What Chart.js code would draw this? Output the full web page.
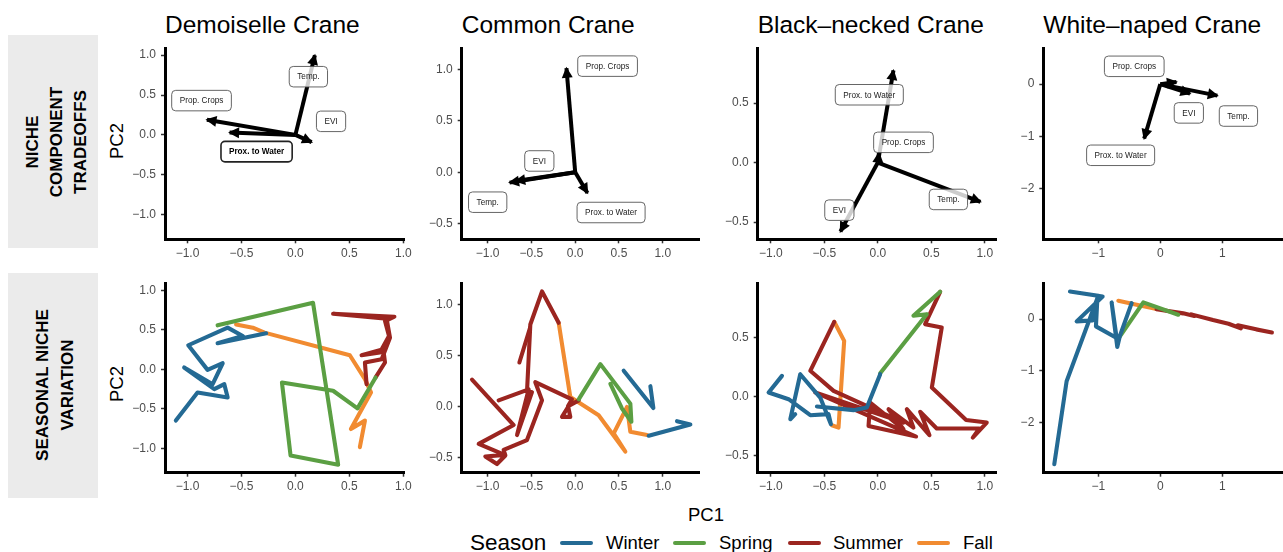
<!DOCTYPE html>
<html><head><meta charset="utf-8">
<script src="https://cdn.jsdelivr.net/npm/chart.js@4.4.1/dist/chart.umd.min.js"></script>
<style>
html,body{margin:0;padding:0;background:#fff;}
body{width:1283px;height:552px;position:relative;overflow:hidden;font-family:"Liberation Sans",Arial,Helvetica,sans-serif;color:#000;}
.title{position:absolute;font-size:24.5px;line-height:26px;white-space:nowrap;}
.strip{position:absolute;left:8px;width:90px;background:#ebebeb;}
.rot{position:absolute;transform:translate(-50%,-50%) rotate(-90deg);white-space:nowrap;text-align:center;}
canvas{position:absolute;}
.leg{position:absolute;white-space:nowrap;}
.sw{position:absolute;height:4px;border-radius:2px;}
</style></head><body>
<div id="root"></div>
<script>
// ---------------- DATA ----------------
const species = ['Demoiselle Crane', 'Common Crane', 'Black\u2013necked Crane', 'White\u2013naped Crane'];
const seasons = ['Winter', 'Spring', 'Summer', 'Fall'];
const rowLabels = [['NICHE', 'COMPONENT', 'TRADEOFFS'], ['SEASONAL NICHE', 'VARIATION']];
const xTicks = [[-1, -0.5, 0, 0.5, 1], [-1, -0.5, 0, 0.5, 1], [-1, -0.5, 0, 0.5, 1], [-1, 0, 1]];
const yTicks = [[-1, -0.5, 0, 0.5, 1], [-0.5, 0, 0.5, 1], [-0.5, 0, 0.5], [-2, -1, 0]];
const xLimits = [[-1.2085, 1.006], [-1.297, 1.418], [-1.124, 1.112], [-1.887, 1.974]];
const yLimits = [[-1.31, 1.09], [-0.65, 1.206], [-0.645, 0.963], [-2.965, 0.69]];
const tickDecimals = [1, 1, 1, 0];

// PCA loadings (arrow tips) and label positions, order = loadingVars
const loadingVars = ['Temp.', 'EVI', 'Prop. Crops', 'Prox. to Water'];
const demoiselleArrows = [[0.18, 1.0], [0.15, -0.09], [-0.82, 0.19], [-0.61, 0.03]];
const demoiselleLabels = [[0.12, 0.73], [0.33, 0.17], [-0.87, 0.43], [-0.36, -0.21]];
const commonArrows = [[-0.75, -0.10], [-0.68, -0.085], [-0.10, 1.01], [0.14, -0.20]];
const commonLabels = [[-1.0, -0.29], [-0.41, 0.11], [0.37, 1.03], [0.41, -0.39]];
const blackneckedArrows = [[0.96, -0.33], [-0.35, -0.58], [0.01, 0.08], [0.146, 0.775]];
const blackneckedLabels = [[0.66, -0.31], [-0.36, -0.40], [0.24, 0.17], [-0.08, 0.57]];
const whitenapedArrows = [[0.92, -0.22], [0.48, -0.18], [0.26, 0.04], [-0.26, -1.04]];
const whitenapedLabels = [[1.26, -0.61], [0.46, -0.55], [-0.42, 0.34], [-0.64, -1.36]];

// Seasonal trajectories (PC1, PC2); null = break in path
const demoiselleWinter = [[-0.271,0.456],[-0.721,0.330],[-0.488,0.423],[-0.628,0.528],[-0.993,0.305],[-0.814,-0.007],[-0.674,0.077],[-0.767,-0.188],[-1.031,0.023],[-0.752,-0.251],[-0.659,-0.188],[-0.628,-0.356],[-0.907,-0.293],[-1.108,-0.650]];
const demoiselleSpring = [[-0.721,0.557],[0.163,0.843],[0.396,-1.210],[-0.045,-1.093],[-0.125,-0.167],[0.349,-0.272],[0.575,-0.495],[0.743,-0.103]];
const demoiselleSummer = [[0.743,-0.103],[0.830,0.086],[0.814,0.254],[0.613,0.178],[0.783,0.212],[0.867,0.423],[0.830,0.612],[0.917,0.667],[0.349,0.704],[0.845,0.641],[0.876,0.401],[0.799,0.128],[0.644,0.086],[0.659,-0.188]];
const demoiselleFall = [[0.597,-0.987],[0.644,-0.650],[0.514,-0.756],[0.700,-0.293],[0.644,-0.125],[0.504,0.178],[-0.286,0.465],[-0.395,0.528],[-0.550,0.569]];

const commonWinter = [[0.554,0.350],[0.893,-0.016],[0.859,0.198],null,[0.840,-0.287],[1.316,-0.177],[1.163,-0.145]];
const commonSpring = [[0.040,0.069],[0.288,0.414],[0.630,0.027],[0.642,-0.151],[0.535,-0.022],[0.402,0.221]];
const commonSummer = [[0.040,0.059],[-0.075,0.004],[-0.151,-0.103],[-0.056,-0.103],[-0.082,0.004],[-0.037,0.069],[-0.456,0.237],[-0.379,0.059],[-0.551,-0.330],[-0.818,-0.427],[-0.798,-0.481],[-0.894,-0.565],[-1.027,-0.491],[-0.806,-0.475],[-1.103,-0.368],[-0.703,-0.183],[-1.179,0.262],null,[-0.875,0.059],[-0.532,0.166],[-0.665,-0.281],[-0.494,0.140],[-0.551,0.140],[-0.513,0.802],[-0.379,1.126],[-0.189,0.819],null,[-0.638,0.430],[-0.516,0.770]];
const commonFall = [[-0.189,0.819],[-0.056,0.091],[0.268,-0.087],[0.573,-0.443],[0.440,-0.264],[0.592,-0.006],[0.630,-0.248],[0.821,-0.280]];

const blackneckedWinter = [[-0.897,0.177],[-1.022,0.036],[-0.835,-0.021],[-0.632,-0.157],[-0.461,-0.148],[-0.439,-0.233],[-0.539,-0.007],[-0.726,0.191],[-0.819,-0.191],[-0.773,-0.148],null,[-0.570,-0.083],[-0.227,-0.114],[-0.103,-0.092],[0.022,0.191]];
const blackneckedSpring = [[0.022,0.200],[0.458,0.701],[0.333,0.687],[0.583,0.891]];
const blackneckedSummer = [[0.583,0.891],[0.442,0.616],[0.598,0.588],[0.505,0.078],[0.826,-0.197],[1.019,-0.219],[0.888,-0.347],[0.950,-0.270],[0.551,-0.270],[0.396,-0.128],[0.483,-0.327],[0.271,-0.106],[0.333,-0.262],[0.100,-0.106],[0.240,-0.276],[-0.072,-0.049],[-0.087,-0.248],[0.358,-0.338],[-0.586,0.036],[0.240,-0.219],[-0.414,0.050],[-0.632,0.220],[-0.408,0.636]];
const blackneckedFall = [[-0.408,0.636],[-0.315,0.474],[-0.368,-0.262],[-0.430,-0.242]];

const whitenapedWinter = [[-1.710,-2.801],[-1.511,-1.199],[-1.000,0.449],[-1.457,0.532],[-0.930,0.436],[-1.349,-0.045],[-1.091,-0.026],[-1.016,0.372],[-1.038,-0.141],[-0.704,-0.365],[-0.785,0.321],[-0.694,-0.538],[-0.651,-0.321],[-0.462,0.308]];
const whitenapedSpring = [[-0.651,-0.333],[-0.274,0.321],[0.290,0.083]];
const whitenapedSummer = [[-0.06,0.19],[0.37,0.11],[0.55,0.06],[0.50,0.09],[0.85,-0.02],[1.10,-0.09],[1.30,-0.18],[1.25,-0.12],[1.60,-0.21],[1.80,-0.26],[1.55,-0.20]];
const whitenapedFall = [[-0.677,0.353],[-0.382,0.276],[-0.059,0.192]];

// ---------------- STYLE / LAYOUT ----------------
const seasonColors = ['#246A94', '#5B9F43', '#9B2520', '#F18B31'];
const FONT = '"Liberation Sans", Arial, Helvetica, sans-serif';
const colAxisX = [165, 461.7, 757.7, 1043.3];
const colRightX = [404, 699.3, 996.7, 1282.7];
const rowTopY = [48, 283.3];
const rowBottomY = [239.3, 472.7];

const arrowSets = [demoiselleArrows, commonArrows, blackneckedArrows, whitenapedArrows];
const labelSets = [demoiselleLabels, commonLabels, blackneckedLabels, whitenapedLabels];
const trajSets = [
  [demoiselleWinter, demoiselleSpring, demoiselleSummer, demoiselleFall],
  [commonWinter, commonSpring, commonSummer, commonFall],
  [blackneckedWinter, blackneckedSpring, blackneckedSummer, blackneckedFall],
  [whitenapedWinter, whitenapedSpring, whitenapedSummer, whitenapedFall]
];
const emphasized = {0: 'Prox. to Water'};

const root = document.getElementById('root');
function el(tag, css, html) { const e = document.createElement(tag); e.style.cssText = css; if (html !== undefined) e.innerHTML = html; root.appendChild(e); return e; }

// titles
species.forEach((s, c) => el('div', `left:${colAxisX[c]}px;top:12px;`, s).className = 'title');
// strips
el('div', 'top:35px;height:213.3px;').className = 'strip';
el('div', 'top:272.7px;height:225px;').className = 'strip';
el('div', `left:57px;top:142px;font-weight:bold;font-size:17px;line-height:24px;`, rowLabels[0].join('<br>')).className = 'rot';
el('div', `left:55px;top:385px;font-weight:bold;font-size:17px;line-height:25px;`, rowLabels[1].join('<br>')).className = 'rot';
// axis titles
el('div', `left:117px;top:141px;font-size:18.5px;`, 'PC2').className = 'rot';
el('div', `left:117px;top:384px;font-size:18.5px;`, 'PC2').className = 'rot';
el('div', 'position:absolute;left:706px;top:515px;transform:translate(-50%,-50%);font-size:18.5px;white-space:nowrap;', 'PC1');
// legend
el('div', 'left:470px;top:530px;font-size:22.5px;line-height:26px;', 'Season').className = 'leg';
const swX = [560, 673, 787.5, 917], txX = [606, 719, 833, 963];
seasons.forEach((s, i) => {
  el('div', `left:${swX[i]}px;top:541px;width:33px;background:${seasonColors[i]};`).className = 'sw';
  el('div', `left:${txX[i]}px;top:532px;font-size:18.5px;line-height:22px;`, s).className = 'leg';
});

function fmt(v, d) { return v.toFixed(d).replace('-', '\u2212'); }
function splitRuns(arr) {
  const runs = []; let cur = [];
  arr.forEach(p => { if (p) cur.push({x: p[0], y: p[1]}); else { if (cur.length) runs.push(cur); cur = []; } });
  if (cur.length) runs.push(cur);
  return runs;
}

const biplotPlugin = {
  id: 'biplot',
  afterDatasetsDraw(chart, args, opts) {
    if (!opts || !opts.tips) return;
    const ctx = chart.ctx, xs = chart.scales.x, ys = chart.scales.y;
    const x0 = xs.getPixelForValue(0), y0 = ys.getPixelForValue(0);
    ctx.save();
    opts.tips.forEach(t => {
      const x1 = xs.getPixelForValue(t[0]), y1 = ys.getPixelForValue(t[1]);
      const a = Math.atan2(y1 - y0, x1 - x0), L = 11, W = 5.5;
      const tx = x1 + Math.cos(a) * 1.5, ty = y1 + Math.sin(a) * 1.5;
      ctx.beginPath();
      ctx.moveTo(tx, ty);
      ctx.lineTo(tx - L * Math.cos(a) + W * Math.sin(a), ty - L * Math.sin(a) - W * Math.cos(a));
      ctx.lineTo(tx - L * Math.cos(a) - W * Math.sin(a), ty - L * Math.sin(a) + W * Math.cos(a));
      ctx.closePath(); ctx.fillStyle = '#000'; ctx.fill();
    });
    opts.labels.forEach((p, i) => {
      const name = opts.names[i];
      const bold = opts.emph === name;
      ctx.font = (bold ? 'bold ' : '') + '8.2px ' + FONT;
      const tw = ctx.measureText(name).width;
      const w = tw + 16, h = 20.5;
      const cx = xs.getPixelForValue(p[0]), cy = ys.getPixelForValue(p[1]);
      ctx.beginPath();
      ctx.roundRect(cx - w / 2, cy - h / 2, w, h, 4);
      ctx.fillStyle = 'rgba(255,255,255,0.8)'; ctx.fill();
      ctx.lineWidth = bold ? 1.6 : 0.9; ctx.strokeStyle = bold ? '#222' : '#555'; ctx.stroke();
      ctx.fillStyle = bold ? '#000' : '#222'; ctx.textAlign = 'center'; ctx.textBaseline = 'middle';
      ctx.fillText(name, cx, cy + 0.5);
    });
    ctx.restore();
  }
};

function makePanel(row, col) {
  const ax = colAxisX[col], rx = colRightX[col], ty = rowTopY[row], by = rowBottomY[row];
  const left = Math.floor(ax - 50), top = Math.floor(ty - 8);
  const cw = Math.ceil(rx - left + 22), ch = Math.ceil(by - top + 26);
  const W = ax - left, padTop = ty - top, padRight = cw - (rx - left), H = ch - (by - top);
  const cv = document.createElement('canvas');
  cv.width = cw; cv.height = ch;
  cv.style.left = left + 'px'; cv.style.top = top + 'px';
  cv.style.width = cw + 'px'; cv.style.height = ch + 'px';
  root.appendChild(cv);

  const datasets = [];
  let pluginOpts = {};
  if (row === 0) {
    arrowSets[col].forEach(t => datasets.push({
      data: [{x: 0, y: 0}, {x: t[0], y: t[1]}], showLine: true, borderColor: '#000',
      borderWidth: 4, pointRadius: 0, borderCapStyle: 'butt', borderJoinStyle: 'round'
    }));
    pluginOpts = {tips: arrowSets[col], labels: labelSets[col], names: loadingVars, emph: emphasized[col]};
  } else {
    trajSets[col].forEach((arr, si) => splitRuns(arr).forEach(run => datasets.push({
      data: run, showLine: true, borderColor: seasonColors[si], borderWidth: 4.1, pointRadius: 0,
      borderCapStyle: 'round', borderJoinStyle: 'round', tension: 0
    })));
  }
  const d = tickDecimals[col];
  const common = (ticks) => ({
    type: 'linear',
    grid: {display: true, drawOnChartArea: false, drawTicks: true, tickLength: 4, tickColor: '#333', tickWidth: 1.5},
    border: {display: true, color: '#000', width: 3},
    afterBuildTicks: s => { s.ticks = ticks.map(v => ({value: v})); },
  });
  new Chart(cv, {
    type: 'scatter',
    data: {datasets},
    plugins: [biplotPlugin],
    options: {
      responsive: false, animation: false, devicePixelRatio: 1,
      layout: {padding: {top: padTop, right: padRight, bottom: 0, left: 0}},
      plugins: {legend: {display: false}, tooltip: {enabled: false}, biplot: pluginOpts},
      scales: {
        x: Object.assign(common(xTicks[col]), {
          position: 'bottom', min: xLimits[col][0], max: xLimits[col][1],
          afterFit: s => { s.height = H; s.paddingLeft = 0; s.paddingRight = 0; },
          ticks: {color: '#4d4d4d', font: {size: 12, family: FONT}, padding: 3, maxRotation: 0, autoSkip: false, callback: v => fmt(v, d)}
        }),
        y: Object.assign(common(yTicks[col]), {
          position: 'left', min: yLimits[col][0], max: yLimits[col][1],
          afterFit: s => { s.width = W; s.paddingTop = 0; s.paddingBottom = 0; },
          ticks: {color: '#4d4d4d', font: {size: 12, family: FONT}, padding: 5, autoSkip: false, callback: v => fmt(v, d)}
        })
      }
    }
  });
}
for (let r = 0; r < 2; r++) for (let c = 0; c < 4; c++) makePanel(r, c);
</script>
</body></html>
